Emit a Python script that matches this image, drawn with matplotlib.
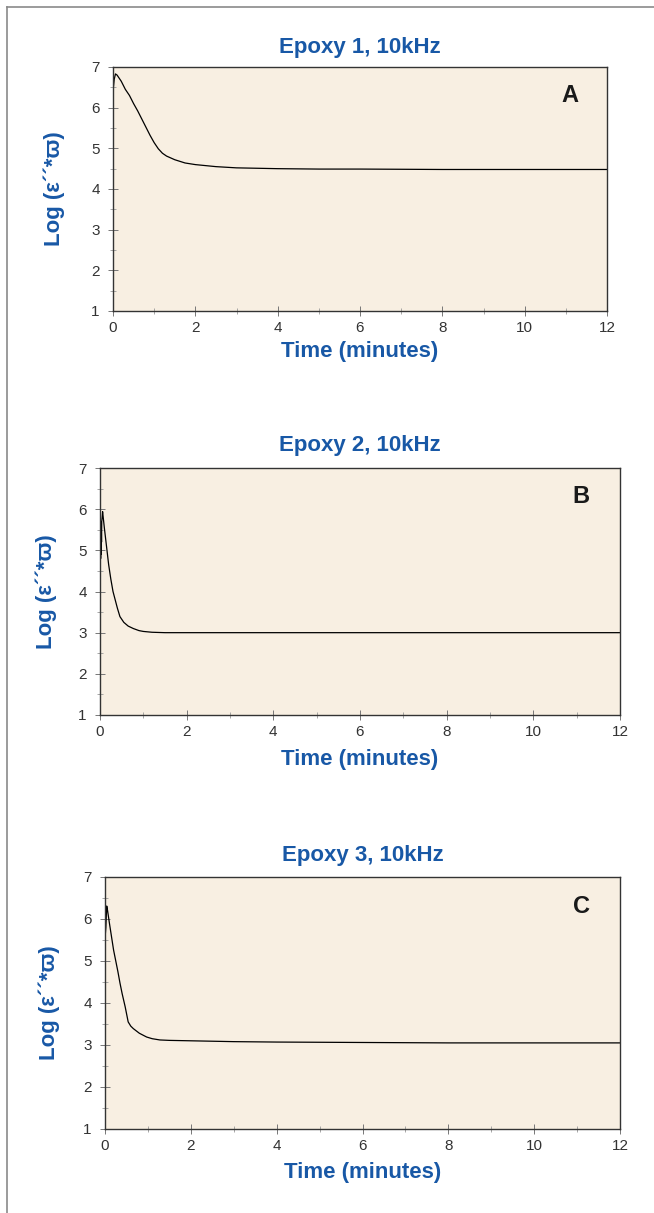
import numpy as np
import matplotlib
matplotlib.use("Agg")
import matplotlib.pyplot as plt
from matplotlib.lines import Line2D
from matplotlib.ticker import MultipleLocator

plt.rcParams['font.family'] = ['Liberation Sans', 'DejaVu Sans']

# time (minutes) and Log(e''*w) readings for the three epoxies at 10 kHz
t_epoxy1 = [0, 0.005, 0.01, 0.03, 0.06, 0.1, 0.2, 0.3, 0.4, 0.5, 0.6, 0.7, 0.8,
            0.9, 1.0, 1.1, 1.2, 1.3, 1.5, 1.75, 2.0, 2.5, 3.0, 4.0, 5.0, 6.0,
            8.0, 10.0, 12.0]
v_epoxy1 = [1.1, 5.9, 6.5, 6.7, 6.83, 6.8, 6.65, 6.45, 6.3, 6.1, 5.92, 5.72,
            5.52, 5.32, 5.14, 4.99, 4.88, 4.81, 4.72, 4.64, 4.6, 4.55, 4.52,
            4.5, 4.49, 4.49, 4.48, 4.48, 4.48]

t_epoxy2 = [0, 0.005, 0.01, 0.015, 0.02, 0.025, 0.03, 0.035, 0.04, 0.05, 0.06,
            0.1, 0.15, 0.2, 0.25, 0.3, 0.35, 0.4, 0.46, 0.55, 0.65, 0.77, 0.9,
            1.0, 1.2, 1.5, 2.0, 3.0, 4.0, 6.0, 8.0, 10.0, 12.0]
v_epoxy2 = [1.05, 4.7, 5.5, 4.8, 5.7, 4.9, 5.6, 5.2, 5.7, 5.8, 5.94,
            5.55, 5.1, 4.65, 4.3, 4.0, 3.8, 3.6, 3.39, 3.25, 3.16, 3.1, 3.05,
            3.03, 3.01, 3.0, 3.0, 3.0, 3.0, 3.0, 3.0, 3.0, 3.0]

t_epoxy3 = [0, 0.005, 0.02, 0.04, 0.06, 0.1, 0.2, 0.3, 0.35, 0.4, 0.47, 0.54,
            0.6, 0.66, 0.8, 0.97, 1.1, 1.28, 1.5, 2.0, 3.0, 4.0, 6.0, 8.0,
            10.0, 12.0]
v_epoxy3 = [1.07, 5.6, 5.8, 6.31, 6.2, 5.92, 5.26, 4.75, 4.47, 4.22, 3.91, 3.55,
            3.45, 3.39, 3.28, 3.19, 3.15, 3.12, 3.11, 3.1, 3.08, 3.07, 3.06,
            3.05, 3.05, 3.05]

titles = ['Epoxy 1, 10kHz', 'Epoxy 2, 10kHz', 'Epoxy 3, 10kHz']
letters = ['A', 'B', 'C']
xticks = [0, 2, 4, 6, 8, 10, 12]
yticks = [1, 2, 3, 4, 5, 6, 7]

blue = '#1858a6'
W, H = 654, 1213
fig = plt.figure(figsize=(W / 100, H / 100), dpi=100)

# panel boxes in pixels: left, top, right, bottom
boxes = [(113, 67, 607, 311), (100, 468, 620, 715), (105, 877, 620, 1129)]
title_pads = [10, 12, 11.5]
ylab_x = [-0.097, -0.083, -0.087]
xlab_y = [-0.123, -0.138, -0.131]
data = [(t_epoxy1, v_epoxy1), (t_epoxy2, v_epoxy2), (t_epoxy3, v_epoxy3)]

for i, (l, t, r, b) in enumerate(boxes):
    ax = fig.add_axes([l / W, 1 - b / H, (r - l) / W, (b - t) / H])
    ax.set_facecolor('#f8efe2')
    ax.plot(data[i][0], data[i][1], color='black', lw=0.9)
    ax.set_xlim(0, 12)
    ax.set_ylim(1, 7)
    ax.set_xticks(xticks)
    ax.set_yticks(yticks)
    ax.xaxis.set_minor_locator(MultipleLocator(1))
    ax.yaxis.set_minor_locator(MultipleLocator(0.5))
    ax.tick_params(which='major', direction='inout', length=7, width=0.7,
                   color='#777777', labelsize=11, labelcolor='#333333')
    ax.tick_params(which='minor', direction='inout', length=4, width=0.6,
                   color='#999999')
    ax.tick_params(axis='x', which='major', pad=4)
    ax.tick_params(axis='y', which='major', pad=6)
    for side in ax.spines.values():
        side.set_color('#333333')
        side.set_linewidth(1.0)

    ax.set_title(titles[i], color=blue, fontsize=16, fontweight='bold',
                 pad=title_pads[i])
    ax.set_xlabel('Time (minutes)', color=blue, fontsize=16, fontweight='bold',
                  va='top')
    ax.xaxis.set_label_coords(0.5, xlab_y[i])
    ax.set_ylabel('Log (\u03b5\u00b4\u00b4*\u03d6)', color=blue, fontsize=16,
                  fontweight='bold')
    ax.yaxis.set_label_coords(ylab_x[i], 0.5)
    ax.text(0.925, 0.93, letters[i], transform=ax.transAxes, ha='center',
            va='top', fontsize=17, fontweight='bold', color='#1a1a1a')

# outer frame (left and top edges)
fx, fy = 6.5 / W, 1 - 6.5 / H
fig.add_artist(Line2D([fx, fx], [0, fy], transform=fig.transFigure,
                      color='#8a8a8a', lw=1.2))
fig.add_artist(Line2D([fx, 1], [fy, fy], transform=fig.transFigure,
                      color='#8a8a8a', lw=1.2))

fig.savefig('out.png', dpi=100)
